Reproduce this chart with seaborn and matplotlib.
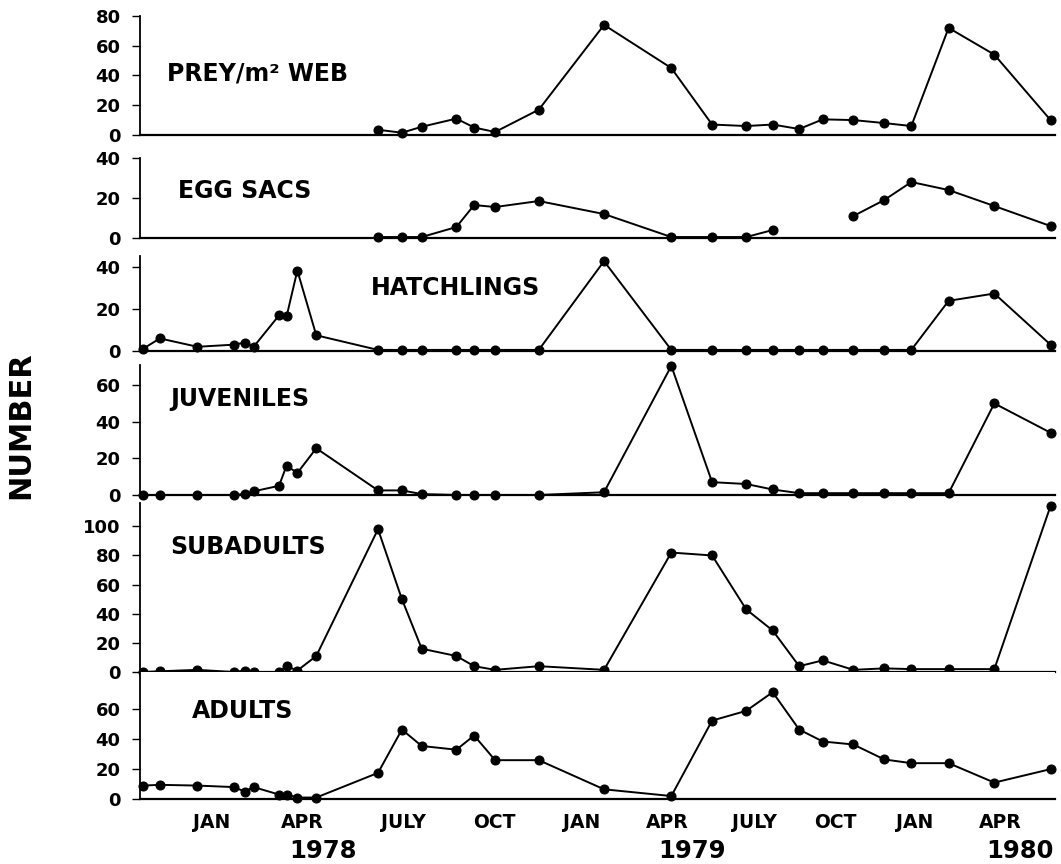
import numpy as np
import pandas as pd
import matplotlib
matplotlib.use("Agg")
import matplotlib.pyplot as plt
import seaborn as sns

# sampling dates, in months counted from Jan 1978
months = [-2.76, -2.18, -0.89, 0.35, 0.74, 1.04, 1.91, 2.17, 2.54, 3.19,
          5.31, 6.13, 6.81, 8.00, 8.61, 9.33, 10.83, 13.07, 15.38, 16.78,
          17.95, 18.86, 19.77, 20.58, 21.63, 22.69, 23.62, 24.90, 26.47, 28.40]

nan = np.nan
prey = [nan] * 10 + [3.5, 1.5, 5.5, 11, 5, 2, 17, 74, 45, 7,
                     6, 7, 4, 10.5, 10, 8, 6, 72, 54, 10]
egg_sacs = [nan] * 10 + [0.5, 0.5, 0.5, 5.5, 16.5, 15.5, 18.5, 12, 0.5, 0.5,
                         0.5, 4, nan, nan, 11, 19, 28, 24, 16, 6]
hatchlings = [1, 6, 2, 3, 4, 2, 17, 16.5, 38.5, 7.5,
              0.5, 0.5, 0.5, 0.5, 0.5, 0.5, 0.5, 43, 0.5, 0.5,
              0.5, 0.5, 0.5, 0.5, 0.5, 0.5, 0.5, 24, 27.5, 3]
juveniles = [0, 0, 0, 0, 0.5, 2, 5, 16, 12, 25.5,
             2.5, 2.5, 0.5, 0, 0, 0, 0, 1.5, 70.5, 7,
             6, 3, 1, 1, 1, 1, 1, 1, 50, 34]
subadults = [0, 0.5, 1.5, 0, 1, 0, 0, 4, 1, 11,
             98, 50, 16, 11, 4, 1.5, 4, 1.5, 82, 80,
             43, 28.5, 4, 8, 1.5, 2.5, 2, 2, 2, 114]
adults = [9, 9.5, 9, 8, 5, 8, 3, 3, 1, 1,
          17.5, 46.5, 35.5, 33, 42.5, 26, 26, 6.5, 2, 52.5,
          59, 71.5, 46.5, 38.5, 36.5, 26.5, 24, 24, 11, 20]

month_labels = ["JAN", "APR", "JULY", "OCT", "JAN", "APR", "JULY", "OCT", "JAN", "APR"]
years = ["1978", "1979", "1980"]

# where the month / year labels sit along the axis (as in the original)
month_label_pos = [-0.39, 2.70, 6.17, 9.29, 12.29, 15.23, 18.24, 21.02, 23.73, 26.69]
year_pos = [3.42, 16.08, 27.34]

sns.set_style("ticks")
plt.rcParams["font.family"] = ["DejaVu Sans"]
plt.rcParams["font.weight"] = "bold"
plt.rcParams["text.color"] = "black"
plt.rcParams["axes.edgecolor"] = "black"
plt.rcParams["xtick.color"] = "black"
plt.rcParams["ytick.color"] = "black"
plt.rcParams["axes.labelcolor"] = "black"

# label, values, y top, y ticks, axes rect, text position (axes fraction)
panels = [
    ("PREY/m² WEB", prey, 80, [0, 20, 40, 60, 80], [0.132, 0.8438, 0.862, 0.1377], (0.029, 0.52)),
    ("EGG SACS", egg_sacs, 40, [0, 20, 40], [0.132, 0.7245, 0.862, 0.0926], (0.041, 0.59)),
    ("HATCHLINGS", hatchlings, 45.5, [0, 20, 40], [0.132, 0.5938, 0.862, 0.110], (0.252, 0.66)),
    ("JUVENILES", juveniles, 71, [0, 20, 40, 60], [0.132, 0.4271, 0.862, 0.1505], (0.033, 0.74)),
    ("SUBADULTS", subadults, 116, [0, 20, 40, 60, 80, 100], [0.132, 0.2222, 0.862, 0.1956], (0.033, 0.74)),
    ("ADULTS", adults, 85, [0, 20, 40, 60], [0.132, 0.0752, 0.862, 0.147], (0.057, 0.69)),
]

fig = plt.figure(figsize=(10.61, 8.64), dpi=100)

for i, (name, vals, top, yt, rect, tpos) in enumerate(panels):
    ax = fig.add_axes(rect)
    df = pd.DataFrame({"month": months, "n": vals})
    df["seg"] = df["n"].isna().cumsum()
    df = df.dropna()
    sns.lineplot(data=df, x="month", y="n", units="seg", estimator=None,
                 color="black", marker="o", markersize=6.5, markeredgecolor="black",
                 linewidth=1.4, clip_on=False, legend=False, ax=ax)
    ax.set_xlim(-2.86, 28.54)
    ax.set_ylim(0, top)
    ax.set_yticks(yt)
    ax.set_xlabel("")
    ax.set_ylabel("")
    sns.despine(ax=ax)
    ax.spines["left"].set_linewidth(1.3)
    ax.spines["bottom"].set_linewidth(1.6)
    ax.tick_params(axis="y", direction="out", length=6, width=1, labelsize=13, pad=8)
    ax.text(tpos[0], tpos[1], name, transform=ax.transAxes, fontsize=17,
            fontweight="bold", ha="left", va="center")
    if i < len(panels) - 1:
        ax.tick_params(axis="x", bottom=False, labelbottom=False)
    else:
        ax.set_xticks(month_label_pos)
        ax.set_xticklabels(month_labels)
        ax.tick_params(axis="x", length=0, labelsize=13.5, pad=10)
        for yr, xp in zip(years, year_pos):
            ax.text(xp, -0.41, yr, transform=ax.get_xaxis_transform(),
                    ha="center", va="center", fontsize=17.5, fontweight="bold")

fig.text(0.020, 1 - 425 / 864, "NUMBER", rotation=90, ha="center", va="center",
         fontsize=22, fontweight="bold")

fig.savefig("out.png", dpi=100)
